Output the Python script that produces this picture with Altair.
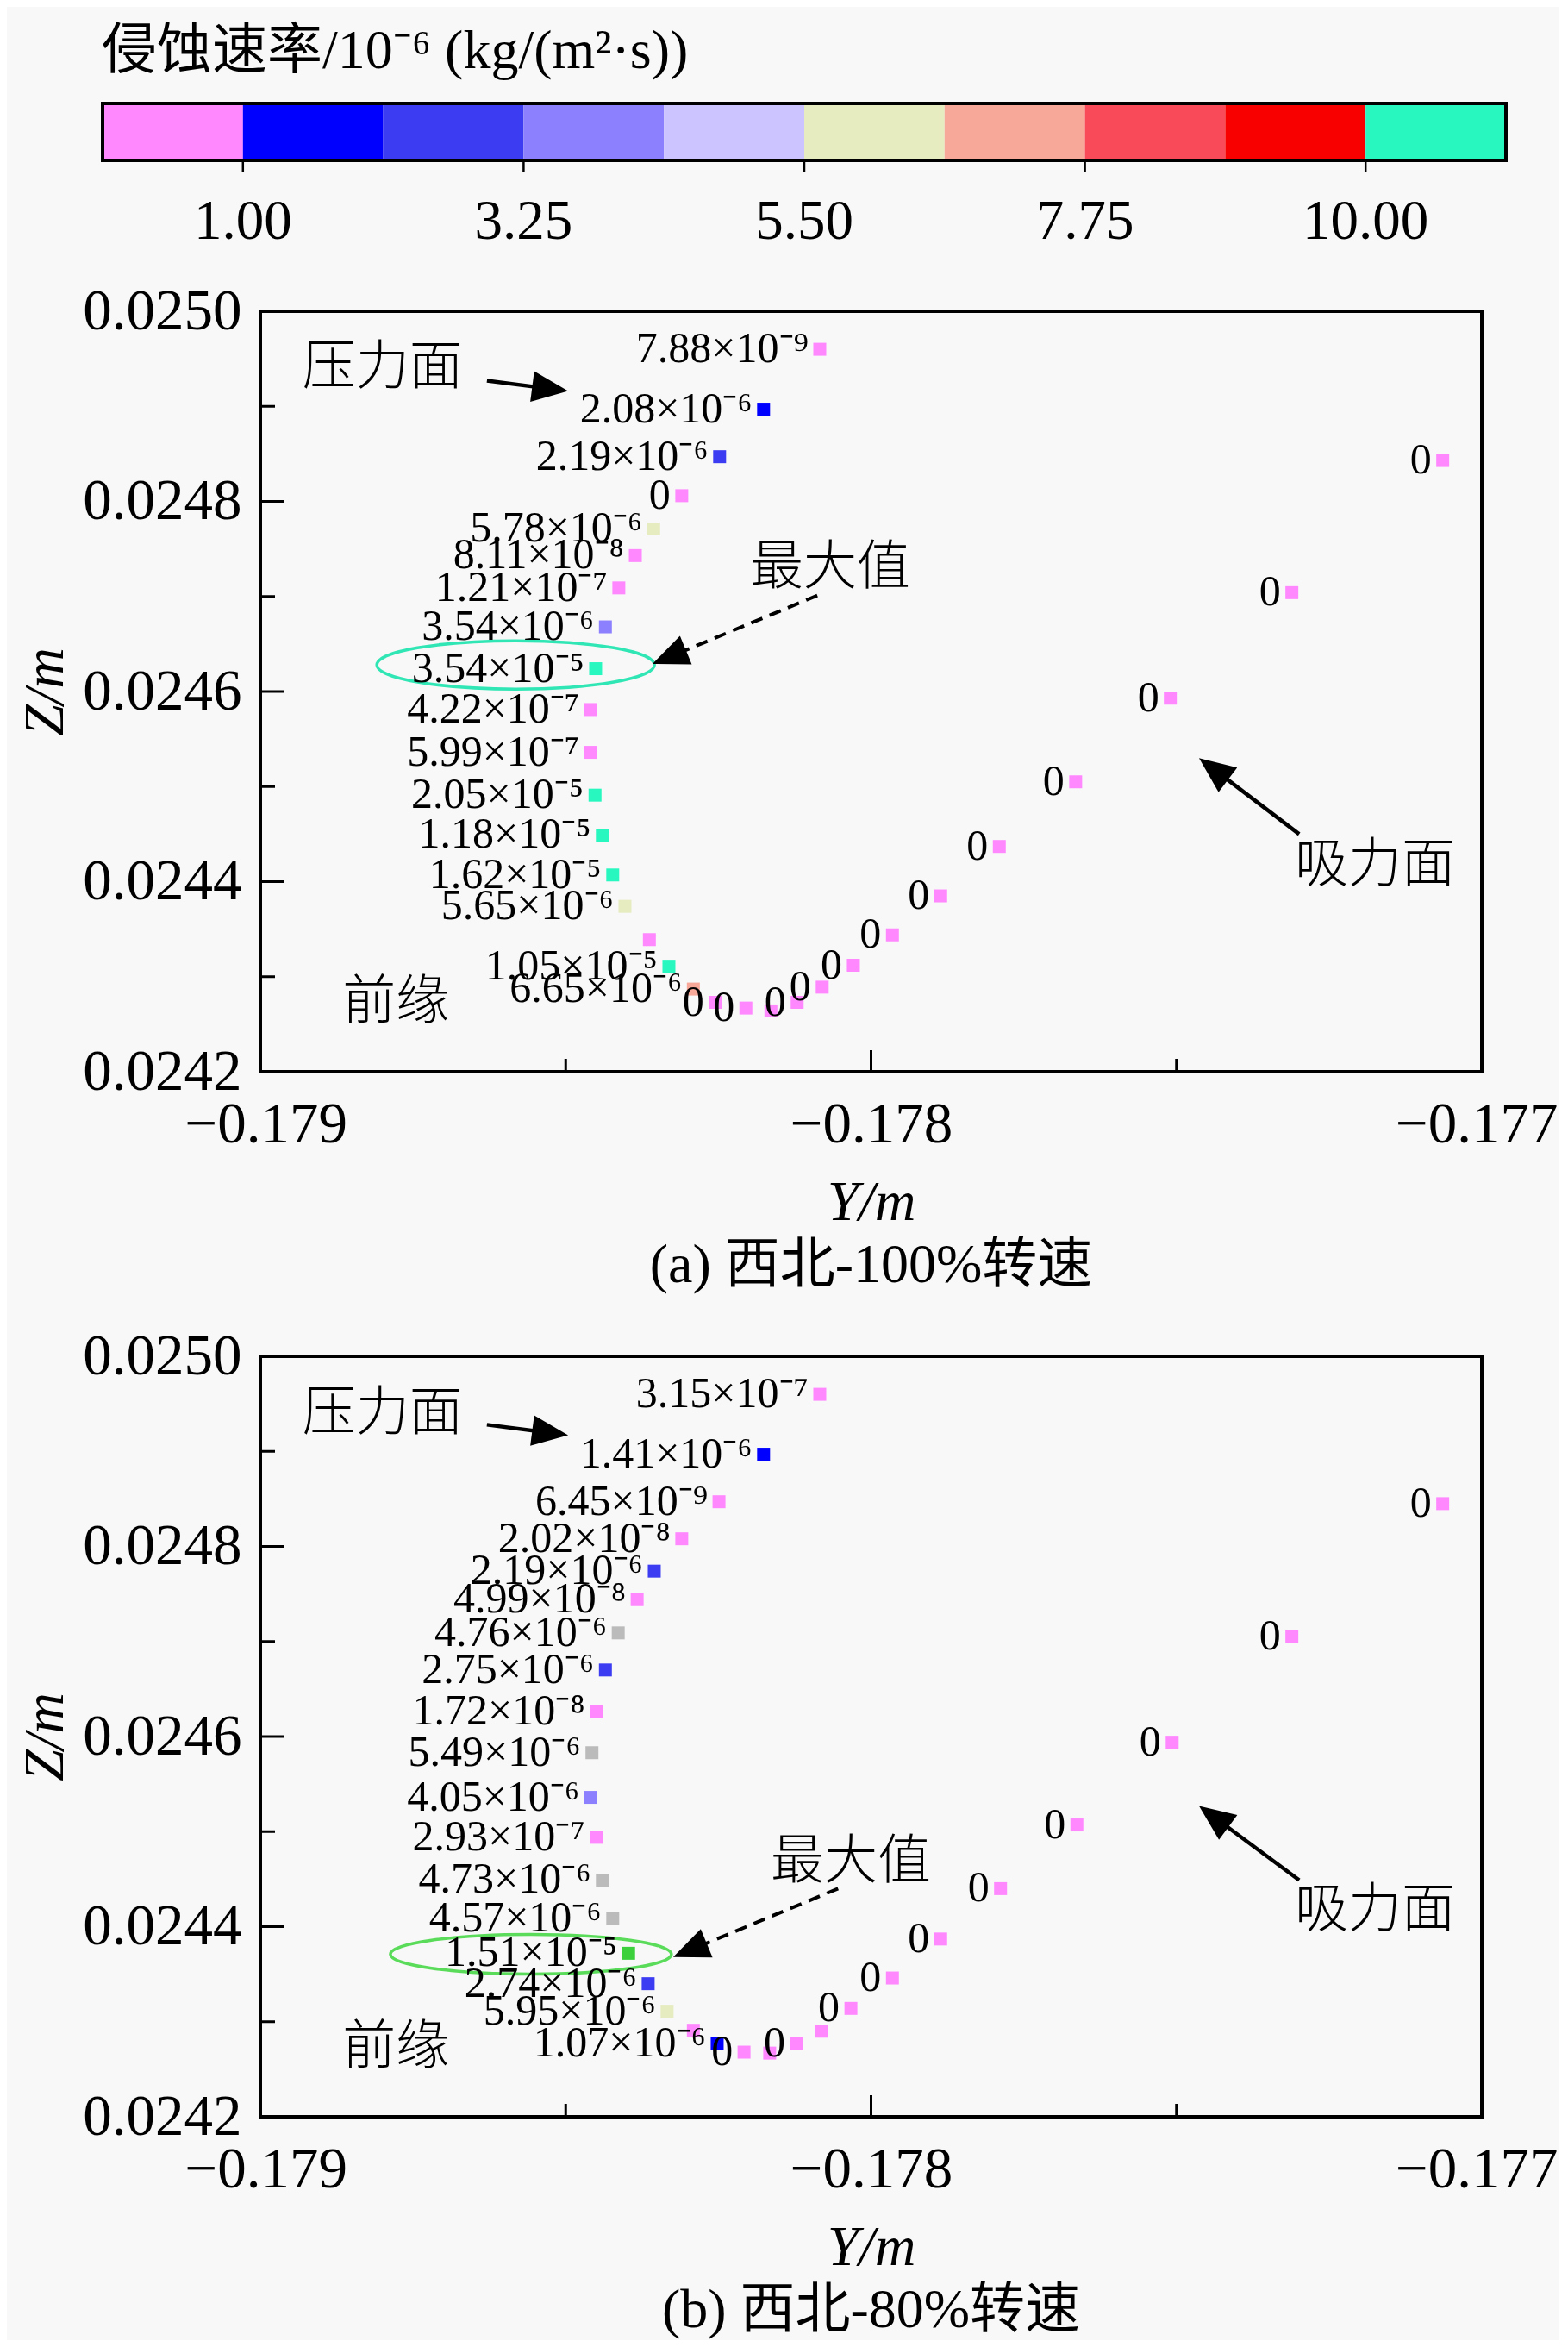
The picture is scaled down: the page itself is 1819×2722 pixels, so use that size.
import math
import altair as alt
import pandas as pd

FONT_LAT = "Liberation Serif"
FONT_CJK = "Noto Sans CJK SC"
FONT_MIX = "Liberation Serif, Noto Sans CJK SC"

# ---------------- colour bar (units of 1e-6 kg/(m^2 s)) ----------------
cb_edges = [-0.125, 1.0, 2.125, 3.25, 4.375, 5.5, 6.625, 7.75, 8.875, 10.0, 11.125]
cb_tick_values = [1.00, 3.25, 5.50, 7.75, 10.00]
cb_title = "侵蚀速率/10⁻⁶ (kg/(m²·s))"
palette_a = ["#FF88FF", "#0000FF", "#3C3CF2", "#8C80FF", "#CCC4FF",
             "#E6EBC0", "#F8A898", "#F84A58", "#F80000", "#28F8C0"]
palette_b = ["#FF88FF", "#0000FF", "#3C3CF2", "#8C80FF", "#BBBBBB",
             "#E6EBC0", "#F8A898", "#F84A58", "#F80000", "#3CD03C"]

# ---------------- axes ----------------
x_labels = [-0.179, -0.178, -0.177]
z_labels = [0.0242, 0.0244, 0.0246, 0.0248, 0.0250]
x_major = [-0.178]
x_minor = [-0.1785, -0.1775]
z_major = [0.0248, 0.0246, 0.0244]
z_minor = [0.0249, 0.0247, 0.0245, 0.0243]

# ---------------- (a) 西北-100%转速 ----------------
a_Y = [-0.178084, -0.178176, -0.178248, -0.178310, -0.178356, -0.178386, -0.178413,
       -0.178435, -0.178451, -0.178459, -0.178459, -0.178452, -0.178440, -0.178423,
       -0.178403, -0.178363, -0.178331, -0.178291, -0.178255, -0.178205, -0.178164,
       -0.178121, -0.178080, -0.178029, -0.177965, -0.177886, -0.177790, -0.177665,
       -0.177510, -0.177311, -0.177064]
a_Z = [0.024960, 0.024897, 0.024847, 0.024806, 0.024771, 0.024743, 0.024709,
       0.024668, 0.024624, 0.024581, 0.024536, 0.024491, 0.024449, 0.024407,
       0.024374, 0.024339, 0.024311, 0.024287, 0.024273, 0.024267, 0.024264,
       0.024273, 0.024289, 0.024312, 0.024344, 0.024385, 0.024437, 0.024505,
       0.024593, 0.024704, 0.024843]
a_rate = [7.88e-9, 2.08e-6, 2.19e-6, 0, 5.78e-6, 8.11e-8, 1.21e-7,
          3.54e-6, 3.54e-5, 4.22e-7, 5.99e-7, 2.05e-5, 1.18e-5, 1.62e-5,
          5.65e-6, None, 1.05e-5, 6.65e-6, 0, 0, None,
          0, 0, 0, 0, 0, 0, 0,
          0, 0, 0]
a_notes = ["压力面", "最大值", "吸力面", "前缘"]
a_note_Y = [-0.178800, -0.178067, -0.177175, -0.178778]
a_note_Z = [0.024940, 0.024730, 0.024417, 0.024273]
a_arrow_Y0 = [-0.178629, -0.178088, -0.177299]
a_arrow_Z0 = [0.024927, 0.024701, 0.024450]
a_arrow_Y1 = [-0.178496, -0.178358, -0.177463]
a_arrow_Z1 = [0.024916, 0.024629, 0.024530]
a_arrow_dashed = [False, True, False]
a_max_Y, a_max_Z = -0.178582, 0.024628
a_caption = "(a) 西北-100%转速"

# ---------------- (b) 西北-80%转速 ----------------
b_Y = [-0.178084, -0.178176, -0.178249, -0.178310, -0.178355, -0.178383, -0.178414,
       -0.178435, -0.178450, -0.178457, -0.178459, -0.178450, -0.178440, -0.178423,
       -0.178397, -0.178365, -0.178334, -0.178291, -0.178252, -0.178208, -0.178166,
       -0.178122, -0.178081, -0.178033, -0.177965, -0.177886, -0.177788, -0.177663,
       -0.177507, -0.177311, -0.177064]
b_Z = [0.024960, 0.024897, 0.024847, 0.024808, 0.024774, 0.024744, 0.024709,
       0.024670, 0.024626, 0.024583, 0.024536, 0.024494, 0.024449, 0.024409,
       0.024372, 0.024340, 0.024311, 0.024291, 0.024277, 0.024268, 0.024267,
       0.024277, 0.024290, 0.024314, 0.024346, 0.024387, 0.024440, 0.024507,
       0.024594, 0.024705, 0.024845]
b_rate = [3.15e-7, 1.41e-6, 6.45e-9, 2.02e-8, 2.19e-6, 4.99e-8, 4.76e-6,
          2.75e-6, 1.72e-8, 5.49e-6, 4.05e-6, 2.93e-7, 4.73e-6, 4.57e-6,
          1.51e-5, 2.74e-6, 5.95e-6, None, 1.07e-6, 0, None,
          0, None, 0, 0, 0, 0, 0,
          0, 0, 0]
b_notes = ["压力面", "最大值", "吸力面", "前缘"]
b_note_Y = [-0.178800, -0.178033, -0.177175, -0.178778]
b_note_Z = [0.024939, 0.024468, 0.024417, 0.024273]
b_arrow_Y0 = [-0.178629, -0.178054, -0.177299]
b_arrow_Z0 = [0.024928, 0.024440, 0.024449]
b_arrow_Y1 = [-0.178496, -0.178324, -0.177463]
b_arrow_Z1 = [0.024917, 0.024368, 0.024527]
b_arrow_dashed = [False, True, False]
b_max_Y, b_max_Z = -0.178557, 0.024371
b_caption = "(b) 西北-80%转速"

# ---------------- layout / style ----------------
W, H = 1417, 882
HEAD = 42
HEAD_SHAPE = "M0,0L0.85,2L-0.85,2Z"
SUP = str.maketrans("-0123456789", "⁻⁰¹²³⁴⁵⁶⁷⁸⁹")


def fmt(v):
    if v is None:
        return ""
    if v == 0:
        return "0"
    m, e = f"{v:.2e}".split("e")
    return f"{m}×10{str(int(e)).translate(SUP)}"


def ellipse_path(ratio):
    k = 0.5523
    r = ratio
    return (f"M-1,0C-1,{-k*r:.4f},{-k:.4f},{-r:.4f},0,{-r:.4f}"
            f"C{k:.4f},{-r:.4f},1,{-k*r:.4f},1,0"
            f"C1,{k*r:.4f},{k:.4f},{r:.4f},0,{r:.4f}"
            f"C{-k:.4f},{r:.4f},-1,{k*r:.4f},-1,0Z")


def arrow_frame(Y0, Z0, Y1, Z1, dashed):
    rows = []
    for y0, z0, y1, z1, d in zip(Y0, Z0, Y1, Z1, dashed):
        dx = (y1 - y0) * W / 0.002
        dy = -(z1 - z0) * H / 0.0008
        L = math.hypot(dx, dy)
        ang = math.degrees(math.atan2(dx, -dy)) % 360
        f = max(0.0, (L - HEAD * 0.6) / L)
        rows.append(dict(Y0=y0, Z0=z0, Ye=y0 + (y1 - y0) * f, Ze=z0 + (z1 - z0) * f,
                         Y1=y1, Z1=z1, ang=ang, dashed=d))
    return pd.DataFrame(rows)


def panel(Ys, Zs, rates, palette, notes, nY, nZ, aY0, aZ0, aY1, aZ1, adash,
          mY, mZ, ell_color, ell_rx, ell_ry, caption, with_colorbar):
    xsc = alt.Scale(domain=[-0.179, -0.177], nice=False, zero=False)
    ysc = alt.Scale(domain=[0.0242, 0.0250], nice=False, zero=False)
    xaxis = alt.Axis(values=x_labels, format=".3f", title="Y/m", ticks=False, domain=False,
                     grid=False, labelFlush=True, labelFlushOffset=88, labelOverlap=False,
                     labelLimit=500,
                     labelFont=FONT_LAT, labelFontSize=67, labelColor="black", labelPadding=28,
                     titleFont=FONT_LAT, titleFontSize=66, titleFontStyle="italic",
                     titleFontWeight="normal", titleColor="black", titlePadding=25)
    yaxis = alt.Axis(values=z_labels, format=".4f", title="Z/m", ticks=False, domain=False,
                     grid=False, labelFlush=False, labelOverlap=False, labelLimit=500,
                     labelFont=FONT_LAT, labelFontSize=67, labelColor="black", labelPadding=22,
                     titleFont=FONT_LAT, titleFontSize=66, titleFontStyle="italic",
                     titleFontWeight="normal", titleColor="black", titlePadding=16)
    X = lambda f: alt.X(f, scale=xsc, axis=xaxis)
    Yc = lambda f: alt.Y(f, scale=ysc, axis=yaxis)

    pts = pd.DataFrame({"Y": Ys, "Z": Zs,
                        "rate": [0.0 if r is None else r * 1e6 for r in rates],
                        "label": [fmt(r) for r in rates]})
    color = alt.Color("rate:Q", scale=alt.Scale(type="threshold", domain=cb_edges[1:-1],
                                                range=palette), legend=None)

    points = alt.Chart(pts).mark_square(size=225, opacity=1).encode(
        x=X("Y:Q"), y=Yc("Z:Q"), color=color)
    labels = alt.Chart(pts).mark_text(align="right", baseline="middle", dx=-13,
                                      font=FONT_LAT, fontSize=50, color="black").encode(
        x=X("Y:Q"), y=Yc("Z:Q"), text="label:N")

    # inward ticks
    t_xmaj = alt.Chart(pd.DataFrame({"v": x_major})).mark_rule(color="black", strokeWidth=3).encode(
        x=X("v:Q"), y=alt.value(H), y2=alt.value(H - 25))
    t_xmin = alt.Chart(pd.DataFrame({"v": x_minor})).mark_rule(color="black", strokeWidth=3).encode(
        x=X("v:Q"), y=alt.value(H), y2=alt.value(H - 15))
    t_zmaj = alt.Chart(pd.DataFrame({"v": z_major})).mark_rule(color="black", strokeWidth=3).encode(
        y=Yc("v:Q"), x=alt.value(0), x2=alt.value(27))
    t_zmin = alt.Chart(pd.DataFrame({"v": z_minor})).mark_rule(color="black", strokeWidth=3).encode(
        y=Yc("v:Q"), x=alt.value(0), x2=alt.value(17))

    # annotations
    note_df = pd.DataFrame({"Y": nY, "Z": nZ, "t": notes})
    note_txt = alt.Chart(note_df).mark_text(align="center", baseline="middle", font=FONT_CJK,
                                            fontSize=62, fontWeight=300, color="black").encode(
        x=X("Y:Q"), y=Yc("Z:Q"), text="t:N")
    adf = arrow_frame(aY0, aZ0, aY1, aZ1, adash)
    solid = alt.Chart(adf[~adf.dashed]).mark_rule(color="black", strokeWidth=4.5).encode(
        x=X("Y0:Q"), y=Yc("Z0:Q"), x2="Ye:Q", y2="Ze:Q")
    dash = alt.Chart(adf[adf.dashed]).mark_rule(color="black", strokeWidth=4,
                                                strokeDash=[14, 9]).encode(
        x=X("Y0:Q"), y=Yc("Z0:Q"), x2="Ye:Q", y2="Ze:Q")
    heads = alt.Chart(adf).mark_point(shape=HEAD_SHAPE, size=(HEAD / 2) ** 2 * 4, filled=True,
                                      color="black", opacity=1).encode(
        x=X("Y1:Q"), y=Yc("Z1:Q"), angle=alt.Angle("ang:Q", scale=None))
    ell = alt.Chart(pd.DataFrame({"Y": [mY], "Z": [mZ]})).mark_point(
        shape=ellipse_path(ell_ry / ell_rx), size=(ell_rx ** 2) * 4, filled=False,
        stroke=ell_color, strokeWidth=3.5, opacity=1).encode(x=X("Y:Q"), y=Yc("Z:Q"))

    main = alt.layer(points, ell, labels, t_xmaj, t_xmin, t_zmaj, t_zmin,
                     solid, dash, heads, note_txt)

    layers = [main]
    if with_colorbar:
        cbx = alt.Scale(domain=[cb_edges[0], cb_edges[-1]], range=[-183, 1445], nice=False, zero=False)
        cby = alt.Scale(domain=[0, 1], range=[-175, -241], nice=False, zero=False)
        cb_df = pd.DataFrame({"lo": cb_edges[:-1], "hi": cb_edges[1:],
                              "mid": [(a + b) / 2 for a, b in zip(cb_edges[:-1], cb_edges[1:])],
                              "b0": 0, "b1": 1})
        cbcolor = alt.Color("mid:Q", scale=alt.Scale(type="threshold", domain=cb_edges[1:-1],
                                                     range=palette_a), legend=None)
        CX = lambda f: alt.X(f, scale=cbx, axis=None)
        CY = lambda f: alt.Y(f, scale=cby, axis=None)
        rects = alt.Chart(cb_df).mark_rect(opacity=1).encode(
            x=CX("lo:Q"), x2="hi:Q", y=CY("b0:Q"), y2="b1:Q", color=cbcolor)
        frame = alt.Chart(pd.DataFrame({"lo": [cb_edges[0]], "hi": [cb_edges[-1]],
                                        "b0": [0], "b1": [1]})).mark_rect(
            fillOpacity=0, stroke="black", strokeWidth=4).encode(
            x=CX("lo:Q"), x2="hi:Q", y=CY("b0:Q"), y2="b1:Q")
        tdf = pd.DataFrame({"v": cb_tick_values, "t0": 0, "t1": -0.2, "ly": -1.076,
                            "txt": [f"{v:.2f}" for v in cb_tick_values]})
        cticks = alt.Chart(tdf).mark_rule(color="black", strokeWidth=2.5).encode(
            x=CX("v:Q"), y=CY("t0:Q"), y2="t1:Q")
        clabels = alt.Chart(tdf).mark_text(align="center", baseline="middle", font=FONT_LAT,
                                           fontSize=65, color="black").encode(
            x=CX("v:Q"), y=CY("ly:Q"), text="txt:N")
        ctitle = alt.Chart(pd.DataFrame({"x": [-0.132], "y": [1.91], "t": [cb_title]})).mark_text(
            align="left", baseline="middle", font=FONT_MIX, fontSize=64, color="black").encode(
            x=CX("x:Q"), y=CY("y:Q"), text="t:N")
        layers.append(alt.layer(rects, frame, cticks, clabels, ctitle))

    ch = alt.layer(*layers)
    if with_colorbar:
        ch = ch.resolve_scale(x="independent", y="independent", color="independent")
    return ch.properties(
        width=W, height=H,
        title=alt.TitleParams(caption, orient="bottom", anchor="middle", font=FONT_MIX,
                              fontSize=64, fontWeight="normal", color="black", offset=9))


pa = panel(a_Y, a_Z, a_rate, palette_a, a_notes, a_note_Y, a_note_Z,
           a_arrow_Y0, a_arrow_Z0, a_arrow_Y1, a_arrow_Z1, a_arrow_dashed,
           a_max_Y, a_max_Z, "#30E6B4", 161, 28, a_caption, True)
pb = panel(b_Y, b_Z, b_rate, palette_b, b_notes, b_note_Y, b_note_Z,
           b_arrow_Y0, b_arrow_Z0, b_arrow_Y1, b_arrow_Z1, b_arrow_dashed,
           b_max_Y, b_max_Z, "#5ADC5A", 163, 23, b_caption, False)

chart = alt.vconcat(pa, pb, spacing=330, bounds="flush").configure_view(
    stroke="black", strokeWidth=4
).properties(background="#F8F8F8",
             padding={"left": 9, "top": 17, "right": 0, "bottom": 0})

chart.save("out.html", embed_options={"renderer": "svg", "actions": False})
